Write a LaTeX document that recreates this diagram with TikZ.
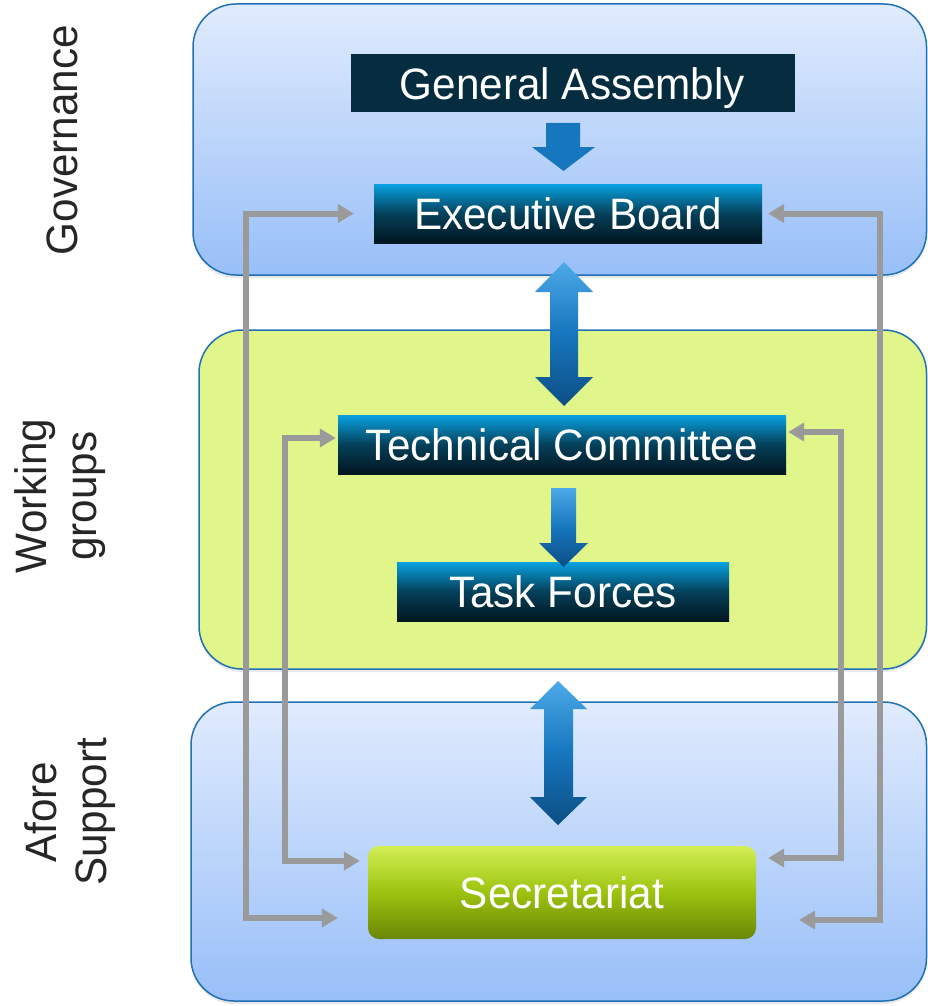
\documentclass[tikz,border=0pt]{standalone}
\usepackage{fontspec}
\setmainfont[FakeStretch=0.96]{Liberation Sans}
\usetikzlibrary{arrows.meta,shadows}
\definecolor{panelline}{HTML}{2070B6}
\definecolor{paneltop}{HTML}{E0EBFD}
\definecolor{panelbot}{HTML}{98BFF8}
\definecolor{wgfill}{HTML}{E0F58A}
\definecolor{boxtop}{HTML}{08A2E1}
\definecolor{boxmid}{HTML}{05405A}
\definecolor{boxbot}{HTML}{01161F}
\definecolor{gafill}{HTML}{052C3F}
\definecolor{secttop}{HTML}{D3EF55}
\definecolor{sectmid}{HTML}{9CC30F}
\definecolor{sectbot}{HTML}{6A8606}
\definecolor{arrtop}{HTML}{4DAAE8}
\definecolor{arrmid}{HTML}{1676BE}
\definecolor{arrbot}{HTML}{0D4E84}
\definecolor{conncol}{HTML}{9A9A9A}
\definecolor{labelcol}{HTML}{262626}
\tikzset{
  bigfont/.style={font=\fontsize{44}{50}\selectfont},
  panel/.style={rounded corners=43pt, draw=panelline, line width=1.5pt,
    drop shadow={opacity=0.18, shadow xshift=0pt, shadow yshift=-3pt}},
  bluepanel/.style={panel, top color=paneltop, bottom color=panelbot},
  greenpanel/.style={panel, fill=wgfill},
  boxtext/.style={bigfont, text=white, inner sep=0pt, text height=31.5pt, text depth=0pt},
  darkbox/.style={boxtext, top color=boxtop, bottom color=boxbot, middle color=boxmid},
  gabox/.style={boxtext, fill=gafill},
  sectbox/.style={boxtext, rounded corners=11pt, top color=secttop, bottom color=sectbot, middle color=sectmid},
  bigarrow/.style={top color=arrtop, bottom color=arrbot, middle color=arrmid},
  conn/.style={draw=conncol, line width=6pt, {Triangle[width=18pt,length=16pt]}-{Triangle[width=18pt,length=16pt]}},
  sidelabel/.style={bigfont, text=labelcol, rotate=90, align=center}
}
\begin{document}
\begin{tikzpicture}[x=1pt,y=-1pt]
\useasboundingbox (0,0) rectangle (928,1006);
% panels
\path[bluepanel] (193,4) rectangle (926.5,275);
\path[greenpanel] (199,330) rectangle (926.5,669);
\path[bluepanel] (191,702) rectangle (926.5,1001);
% side labels
\node[sidelabel] (lgov) at (62,140) {Governance};
\node[sidelabel] (lwg) at (60,496) {Working\\groups};
\node[sidelabel] (lafore) at (70,812) {Afore\\Support};
% boxes
\node[gabox, minimum width=444pt, minimum height=58pt] (ga) at (572.5,83.5) {General Assembly};
\node[darkbox, minimum width=388pt, minimum height=59pt] (eb) at (568,213.5) {Executive Board};
\node[darkbox, minimum width=448pt, minimum height=59pt] (tc) at (562,444.5) {Technical Committee};
\node[darkbox, minimum width=332pt, minimum height=59pt] (tf) at (563,591.5) {Task Forces};
\node[sectbox, minimum width=388pt, minimum height=93pt] (sec) at (562,892.5) {Secretariat};
% gray connectors
\draw[conn] ([xshift=-20pt]eb.west) -- ++(-108pt,0) |- ([xshift=-30pt,yshift=-25.5pt]sec.west);
\draw[conn] ([xshift=-2pt,yshift=6.5pt]tc.west) -- ++(-51pt,0) |- ([xshift=-8pt,yshift=31.5pt]sec.west);
\draw[conn] ([xshift=2pt,yshift=12.5pt]tc.east) -- ++(53pt,0) |- ([xshift=12pt,yshift=34.5pt]sec.east);
\draw[conn] ([xshift=6pt]eb.east) -- ++(112pt,0) |- ([xshift=43pt,yshift=-27.5pt]sec.east);
% big blue arrows
\fill[fill=arrmid] (546,123) -- (580,123) -- (580,147) -- (595,147) -- (563.5,171) -- (532,147) -- (546,147) -- cycle;
\path[bigarrow] (564,262) -- (593,292) -- (578,292) -- (578,377) -- (593,377) -- (564,406) -- (535,377) -- (550,377) -- (550,292) -- (535,292) -- cycle;
\path[bigarrow] (551,488) -- (576,488) -- (576,543) -- (588,543) -- (563.5,567) -- (539,543) -- (551,543) -- cycle;
\path[bigarrow] (558,681) -- (587,709) -- (573,709) -- (573,797) -- (587,797) -- (558,825) -- (530,797) -- (544,797) -- (544,709) -- (530,709) -- cycle;
\end{tikzpicture}
\end{document}
